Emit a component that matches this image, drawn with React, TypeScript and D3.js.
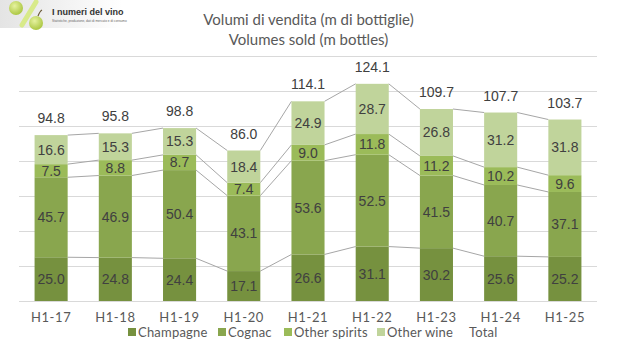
import React from "react";
import * as d3 from "d3";

// period labels
const periods = ["H1-17", "H1-18", "H1-19", "H1-20", "H1-21", "H1-22", "H1-23", "H1-24", "H1-25"];

// volumes in millions of bottles
const champagne = [25.0, 24.8, 24.4, 17.1, 26.6, 31.1, 30.2, 25.6, 25.2];
const cognac = [45.7, 46.9, 50.4, 43.1, 53.6, 52.5, 41.5, 40.7, 37.1];
const otherSpirits = [7.5, 8.8, 8.7, 7.4, 9.0, 11.8, 11.2, 10.2, 9.6];
const otherWine = [16.6, 15.3, 15.3, 18.4, 24.9, 28.7, 26.8, 31.2, 31.8];
const totals = [94.8, 95.8, 98.8, 86.0, 114.1, 124.1, 109.7, 107.7, 103.7];

const seriesNames = ["Champagne", "Cognac", "Other spirits", "Other wine"];
const yTicks = [0, 20, 40, 60, 80, 100, 120, 140];

const colors = ["#76913f", "#89a64e", "#9bbb59", "#c0d49b"];

const W = 617;
const H = 352;
const margin = { top: 56, right: 20, bottom: 51, left: 19 };

export default function App() {
  const rows = periods.map((p, i) => ({
    period: p,
    Champagne: champagne[i],
    Cognac: cognac[i],
    "Other spirits": otherSpirits[i],
    "Other wine": otherWine[i],
  }));

  const stacked = d3.stack<any>().keys(seriesNames)(rows);

  const x = d3
    .scaleBand()
    .domain(periods)
    .range([margin.left, W - margin.right])
    .paddingInner(0.485)
    .paddingOuter(0.2425);

  const y = d3
    .scaleLinear()
    .domain([0, 140])
    .range([H - margin.bottom, margin.top]);

  const bw = x.bandwidth();
  const font = "'Liberation Sans', Arial, sans-serif";
  const font2 = "Lato, 'Open Sans', sans-serif";

  // legend positions
  const legendX = [128, 218, 284, 377, 459];
  const legendNames = [...seriesNames, "Total"];

  return (
    <svg width={W} height={H} style={{ position: "absolute", left: 0, top: 0, background: "#fff" }}>
      <defs>
        <linearGradient id="logoBg" x1="0" x2="1" y1="0" y2="0">
          <stop offset="0" stopColor="#e4e4e4" />
          <stop offset="0.6" stopColor="#f4f4f4" />
          <stop offset="1" stopColor="#ffffff" />
        </linearGradient>
        <radialGradient id="grape" cx="0.4" cy="0.35" r="0.7">
          <stop offset="0" stopColor="#e6f2a0" />
          <stop offset="1" stopColor="#a8c43c" />
        </radialGradient>
      </defs>

      {/* logo */}
      <rect x={0} y={0} width={122} height={28} fill="url(#logoBg)" />
      <line x1={22} y1={25} x2={36} y2={2} stroke="#d8ea8a" strokeWidth={5} strokeLinecap="round" />
      <circle cx={16} cy={8} r={7} fill="url(#grape)" />
      <circle cx={36} cy={23} r={7} fill="url(#grape)" />
      <path d="M 38 16 Q 40 11 42 10" stroke="#6b5a3a" strokeWidth={1.2} fill="none" />
      <text x={52} y={15} fontFamily={font} fontSize={9} fontWeight="bold" fill="#333">
        I numeri del vino
      </text>
      <text x={52} y={22} fontFamily={font} fontSize={3.2} fill="#666">
        Statistiche, produzione, dati di mercato e di consumo
      </text>

      {/* title */}
      <text x={W / 2} y={25} textAnchor="middle" fontFamily={font2} fontSize={15} fill="#595959">
        Volumi di vendita (m di bottiglie)
      </text>
      <text x={W / 2} y={45} textAnchor="middle" fontFamily={font2} fontSize={15} fill="#595959">
        Volumes sold (m bottles)
      </text>

      {/* gridlines */}
      {yTicks.map((t) => (
        <line
          key={t}
          x1={margin.left}
          x2={W - margin.right}
          y1={Math.round(y(t)) + 0.5}
          y2={Math.round(y(t)) + 0.5}
          stroke="#d9d9d9"
          strokeWidth={1}
        />
      ))}

      {/* series lines between bars */}
      {stacked.map((s) =>
        s.slice(0, -1).map((d, i) => (
          <line
            key={s.key + i}
            x1={(x(periods[i]) as number) + bw}
            y1={y(d[1])}
            x2={x(periods[i + 1]) as number}
            y2={y(s[i + 1][1])}
            stroke="#a6a6a6"
            strokeWidth={1}
          />
        ))
      )}

      {/* bars */}
      {stacked.map((s, si) =>
        s.map((d, i) => (
          <rect
            key={s.key + i}
            x={x(periods[i])}
            y={y(d[1])}
            width={bw}
            height={y(d[0]) - y(d[1])}
            fill={colors[si]}
          />
        ))
      )}

      {/* segment labels */}
      {stacked.map((s) =>
        s.map((d, i) => (
          <text
            key={s.key + i}
            x={(x(periods[i]) as number) + bw / 2}
            y={(y(d[0]) + y(d[1])) / 2 + 5}
            textAnchor="middle"
            fontFamily={font}
            fontSize={14}
            fill="#404040"
          >
            {(d[1] - d[0]).toFixed(1)}
          </text>
        ))
      )}

      {/* totals */}
      {totals.map((t, i) => (
        <text
          key={periods[i]}
          x={(x(periods[i]) as number) + bw / 2}
          y={y(t) - 12}
          textAnchor="middle"
          fontFamily={font}
          fontSize={14}
          fill="#404040"
        >
          {t.toFixed(1)}
        </text>
      ))}

      {/* x axis labels */}
      {periods.map((p) => (
        <text
          key={p}
          x={(x(p) as number) + bw / 2}
          y={322}
          textAnchor="middle"
          fontFamily={font2}
          fontSize={13}
          letterSpacing={0.6}
          fill="#595959"
        >
          {p}
        </text>
      ))}

      {/* legend */}
      {legendNames.map((n, i) => (
        <g key={n} transform={`translate(${legendX[i]},332)`}>
          {i < 4 && <rect x={0} y={-4} width={8} height={8} fill={colors[i]} />}
          <text x={10} y={4.5} fontFamily={font2} fontSize={13} letterSpacing={0.2} fill="#595959">
            {n}
          </text>
        </g>
      ))}
    </svg>
  );
}
